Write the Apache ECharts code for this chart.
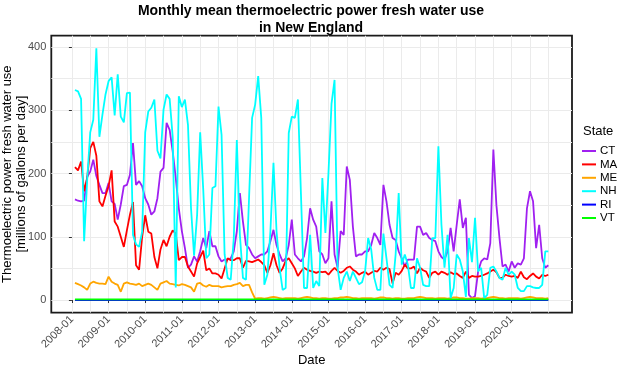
<!DOCTYPE html>
<html><head><meta charset="utf-8">
<script src="https://cdn.jsdelivr.net/npm/echarts@6/dist/echarts.min.js"></script>
<style>html,body{margin:0;padding:0;background:#fff}#c{width:625px;height:367px}</style>
</head><body><div id="c"></div>
<script>
// Monthly values 2008-01 .. 2020-12 (millions of gallons per day)
const CT = [
 159,157,156,157,195,203,222,196,182,169,169,185,
 156,152,127,151,180,182,198,248,182,188,180,161,
 151,135,140,161,203,209,280,269,235,193,145,109,
 82,51,56,69,61,77,98,82,109,85,85,69,
 61,64,64,66,77,109,169,124,87,82,72,66,
 69,72,72,77,93,111,87,72,61,66,87,127,
 72,66,61,69,98,145,127,116,77,72,58,66,
 156,72,51,109,103,211,190,116,69,72,72,77,
 77,87,106,98,87,182,156,119,98,95,77,66,
 53,64,64,64,116,116,103,106,98,95,93,77,
 68,64,77,114,77,119,159,114,130,8,3,6,
 45,61,66,64,90,238,150,98,53,56,45,61,
 51,58,56,66,145,172,156,82,119,66,51,55];
const MA = [
 210,205,219,172,193,240,250,228,156,148,165,180,
 205,124,116,100,84,110,135,155,55,48,100,134,
 108,105,68,50,80,95,85,100,110,105,63,68,
 68,53,45,37,58,68,78,47,50,42,42,40,
 34,50,66,63,63,66,66,51,62,61,60,62,
 64,60,55,43,55,74,55,43,50,62,66,58,
 50,38,45,51,48,46,45,43,45,44,45,40,
 46,51,46,43,46,51,53,48,45,40,43,45,
 40,43,46,45,51,48,51,49,26,43,40,46,
 56,50,50,53,42,51,47,45,35,43,45,40,
 45,43,40,44,41,42,38,35,45,35,38,37,
 37,38,40,42,45,48,44,35,35,40,38,37,
 38,35,45,36,33,38,42,37,34,40,38,40];
const ME = [
 27,25,23,20,16,26,29,27,26,26,25,37,
 29,26,24,13,26,28,26,25,24,26,22,24,
 26,24,20,16,26,28,30,26,25,24,23,25,
 24,22,20,13,26,27,23,21,24,22,22,22,
 20,21,22,22,24,25,27,22,24,24,12,2,
 3,3,2,3,4,5,4,3,2,3,3,3,
 3,2,3,4,5,4,3,3,2,3,3,2,
 2,3,3,4,4,5,4,3,3,2,3,3,
 3,3,2,3,4,4,3,3,2,3,3,2,
 2,3,3,3,4,5,4,3,3,3,2,3,
 3,3,2,3,4,4,3,3,2,2,3,3,
 3,2,3,3,4,5,4,3,3,2,3,3,
 3,3,2,3,4,5,4,3,3,3,2,3];
const NH = [
 332,330,318,93,190,265,285,398,258,293,325,346,
 352,292,357,290,281,327,328,103,88,84,108,265,
 298,304,317,236,224,301,325,318,258,20,322,305,
 317,277,145,70,135,265,175,66,72,177,180,306,
 261,72,35,32,98,253,103,35,32,161,288,309,
 354,288,24,40,109,217,109,51,16,19,264,290,
 288,317,167,19,19,103,19,30,22,193,106,200,
 310,348,51,16,35,45,30,45,35,25,28,45,
 98,80,35,16,16,105,66,24,19,72,169,56,
 72,56,19,19,66,51,24,22,22,98,98,243,
 119,51,103,3,19,72,64,45,5,98,60,130,
 45,51,3,8,51,53,45,35,32,51,40,45,
 40,19,14,14,22,22,20,19,19,24,77,77];
const RI = [
 0,0,0,0,0,0,0,0,0,0,0,0, 0,0,0,0,0,0,0,0,0,0,0,0,
 0,0,0,0,0,0,0,0,0,0,0,0, 0,0,0,0,0,0,0,0,0,0,0,0,
 0,0,0,0,0,0,0,0,0,0,0,0, 0,0,0,0,0,0,0,0,0,0,0,0,
 0,0,0,0,0,0,0,0,0,0,0,0, 0,0,0,0,0,0,0,0,0,0,0,0,
 0,0,0,0,0,0,0,0,0,0,0,0, 0,0,0,0,0,0,0,0,0,0,0,0,
 0,0,0,0,0,0,0,0,0,0,0,0, 0,0,0,0,0,0,0,0,0,0,0,0,
 0,0,0,0,0,0,0,0,0,0,0,0];
const VT = [
 1,1,1,1,1,1,1,1,1,1,1,1, 1,1,1,1,1,1,1,1,1,1,1,1,
 1,1,1,1,1,1,1,1,1,1,1,1, 1,1,1,1,1,1,1,1,1,1,1,1,
 1,1,1,1,1,1,1,1,1,1,1,1, 1,1,1,1,1,1,1,1,1,1,1,1,
 1,1,1,1,1,1,1,1,1,1,1,1, 1,1,1,1,1,1,1,1,1,1,1,1,
 1,1,1,1,1,1,1,1,1,1,1,1, 1,1,1,1,1,1,1,1,1,1,1,1,
 1,1,1,1,1,1,1,1,1,1,1,1, 1,1,1,1,1,1,1,1,1,1,1,1,
 1,1,1,1,1,1,1,1,1,1,1,1];
const states = ['CT','MA','ME','NH','RI','VT'];
const values = {CT, MA, ME, NH, RI, VT};
const colors = {CT:'#A020F0', MA:'#FF0000', ME:'#FFA500', NH:'#00FFFF', RI:'#0000FF', VT:'#00FF00'};
const tickLabels = ['2008-01','2009-01','2010-01','2011-01','2012-01','2013-01','2014-01',
  '2015-01','2016-01','2017-01','2018-01','2019-01','2020-01'];
const yTicks = [0,100,200,300,400];
const yGrid = [0,50,100,150,200,250,300,350,400];

// month position: months since 2008-01-01; monthly points plotted at month end
const monthPos = i => i + 1;
const xTicks = tickLabels.map((_, k) => k * 12);
const xGrid = [];
for (let k = 0; k <= 26; k++) xGrid.push(k * 6);

const chart = echarts.init(document.getElementById('c'), null, {renderer:'canvas'});
const FONT = 'Liberation Sans';
const XMIN = -6.75, XMAX = 163.75, YMIN = -19.9, YMAX = 417.9;
chart.setOption({
  animation: false,
  backgroundColor: '#ffffff',
  textStyle: {fontFamily: FONT},
  title: {
    text: 'Monthly mean thermoelectric power fresh water use\nin New England',
    left: 311, textAlign: 'center', top: 3, padding: 0,
    textStyle: {fontSize: 14, fontWeight: 'bold', color: '#000', lineHeight: 17, fontFamily: FONT}
  },
  grid: {left: 51.3, right: 53, top: 35.7, bottom: 54.4, show: true, containLabel: false,
    outerBoundsMode: 'none',
    borderColor: '#1a1a1a', borderWidth: 1.8, backgroundColor: '#fff'},
  legend: {
    orient: 'vertical', left: 582, top: 145, icon: 'rect', padding: 0,
    itemWidth: 14, itemHeight: 2, itemGap: 1.4,
    textStyle: {fontSize: 11.5, color: '#000', fontFamily: FONT, padding: [0,0,0,-1]},
    data: states
  },
  graphic: [{type: 'text', left: 583, top: 125,
    style: {text: 'State', fontSize: 13, fill: '#000', fontFamily: FONT}}],
  xAxis: [{
    type: 'value', min: XMIN, max: XMAX,
    name: 'Date', nameLocation: 'middle', nameGap: 41, nameMoveOverlap: false,
    nameTextStyle: {fontSize: 13, color: '#000', fontFamily: FONT},
    axisLine: {show: false},
    axisTick: {show: true, customValues: xTicks, length: 3, lineStyle: {color: '#333'}},
    axisLabel: {customValues: xTicks, rotate: 45, fontSize: 11, color: '#4d4d4d', margin: 5,
      formatter: v => tickLabels[Math.round(v / 12)]},
    splitLine: {show: false}
  }, {
    type: 'value', min: XMIN, max: XMAX, position: 'bottom',
    axisLine: {show: false}, axisLabel: {show: false},
    axisTick: {show: false, customValues: xGrid},
    splitLine: {show: true, lineStyle: {color: '#ebebeb', width: 1}}
  }],
  yAxis: [{
    type: 'value', min: YMIN, max: YMAX,
    name: 'Thermoelectric power fresh water use\n[millions of gallons per day]',
    nameLocation: 'middle', nameGap: 23, nameRotate: 90, nameMoveOverlap: false,
    nameTextStyle: {fontSize: 13, color: '#000', lineHeight: 14, fontFamily: FONT},
    axisLine: {show: false},
    axisTick: {show: true, customValues: yTicks, length: 3, lineStyle: {color: '#333'}},
    axisLabel: {customValues: yTicks, fontSize: 11, color: '#4d4d4d', margin: 5},
    splitLine: {show: false}
  }, {
    type: 'value', min: YMIN, max: YMAX, position: 'left',
    axisLine: {show: false}, axisLabel: {show: false},
    axisTick: {show: false, customValues: yGrid},
    splitLine: {show: true, lineStyle: {color: '#ebebeb', width: 1}}
  }],
  series: states.map(s => ({
    name: s, type: 'line', showSymbol: false, symbol: 'none',
    xAxisIndex: 0, yAxisIndex: 0,
    lineStyle: {width: 1.8, color: colors[s]}, itemStyle: {color: colors[s]},
    data: values[s].map((v, i) => [monthPos(i), v])
  }))
});
</script></body></html>
